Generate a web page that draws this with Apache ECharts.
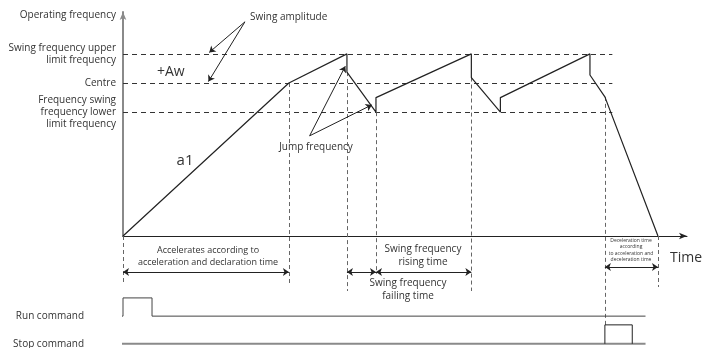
<!DOCTYPE html>
<html>
<head>
<meta charset="utf-8">
<title>Swing frequency</title>
<script src="https://cdn.jsdelivr.net/npm/echarts@6/dist/echarts.min.js"></script>
<style>
  html, body { margin: 0; padding: 0; background: #fff; }
  #chart { width: 705px; height: 348px; }
</style>
</head>
<body>
<div id="chart"></div>
<script>
// swing frequency waveform: time (s) and output frequency (Hz)
const waveTime = [0, 20, 27, 27, 30.5, 30.5, 42, 42, 45.5, 45.5, 56.3, 56.3, 58.1, 64.5];
const waveFreq = [0, 42, 50, 45, 34, 38, 50, 43.5, 34, 38, 50, 44.2, 38.2, 0];

// frequency levels and their names on the axis
const levels = [50, 42, 34];
const levelNames = [
  'Swing frequency upper\nlimit frequency',
  'Centre',
  'Frequency swing\nfrequency lower\nlimit frequency'
];
const levelEnd = 59;

// dashed guides: time and the frequency they start from
const guideTime = [0, 20, 27, 30.5, 42, 58.1, 64.5];
const guideFreq = [0, 42, 45, 34, 43.5, 38.2, 0];

// time spans with double arrows
const spans = [[0, 20], [27, 30.5], [30.5, 42], [58.1, 64.5]];

// command signals
const runPulse = [0, 3.5];
const stopPulse = [58.1, 61.4];
const cmdRange = [-3, 63];

// layout below the time axis (axis units)
const guideEnd = [-12.9, -12.9, -15.1, -10.4, -15.1, -24.4, -14];
const spanY = [-9.9, -9.9, -9.9, -8.5];
const runY = [-22, -17];
const stopY = [-29.6, -24.4];

// pointer arrows for "Swing amplitude" and "Jump frequency"
const pointers = [
  [[14.7, 58.8], [10.4, 50.4]],
  [[14.7, 58.8], [10.3, 42.4]],
  [[22.5, 27.5], [26.8, 46.6]],
  [[22.5, 27.5], [30.0, 36.0]]
];

const FONT = '"Open Sans", "Noto Sans", sans-serif';
const INK = '#222';

function txt (x, y, text, size, align, lh) {
  return {
    type: 'text', x: x, y: y, silent: true,
    style: {
      text: text, fill: '#333', fontFamily: FONT, fontSize: size,
      align: align || 'center', verticalAlign: 'middle',
      lineHeight: lh || Math.round(size * 1.3)
    }
  };
}

function segs (list, color, width, dash, symbol) {
  return {
    type: 'lines', coordinateSystem: 'cartesian2d', clip: false, silent: true,
    symbol: symbol || 'none', symbolSize: 6,
    lineStyle: { color: color, width: width, type: dash || 'solid', opacity: 1 },
    data: list.map(c => ({ coords: c }))
  };
}

const series = [
  // level guides
  segs(levels.map(v => [[0, v], [levelEnd, v]]), '#333', 1, [5, 4]),
  // vertical guides
  segs(guideTime.map((t, i) => [[t, guideFreq[i]], [t, guideEnd[i]]]), '#666', 1, [4, 3]),
  // waveform
  {
    type: 'line', clip: false, showSymbol: false, silent: true,
    lineStyle: { color: INK, width: 1.2 },
    data: waveTime.map((t, i) => [t, waveFreq[i]])
  },
  // double arrows for time spans
  segs(spans.map((s, i) => [[s[0], spanY[i]], [s[1], spanY[i]]]), INK, 1, 'solid', ['arrow', 'arrow']),
  // pointers
  segs(pointers, INK, 1, 'solid', ['none', 'arrow']),
  // run command
  {
    type: 'line', clip: false, showSymbol: false, silent: true,
    lineStyle: { color: '#444', width: 1 },
    data: [
      [cmdRange[0], runY[0]], [runPulse[0], runY[0]], [runPulse[0], runY[1]],
      [runPulse[1], runY[1]], [runPulse[1], runY[0]], [cmdRange[1], runY[0]]
    ]
  },
  // stop command baseline
  {
    type: 'line', clip: false, showSymbol: false, silent: true,
    lineStyle: { color: '#8a8a8a', width: 2 },
    data: [[cmdRange[0], stopY[0]], [cmdRange[1], stopY[0]]]
  },
  // stop pulse
  {
    type: 'line', clip: false, showSymbol: false, silent: true,
    lineStyle: { color: INK, width: 1 },
    data: [
      [stopPulse[0], stopY[0]], [stopPulse[0], stopY[1]],
      [stopPulse[1], stopY[1]], [stopPulse[1], stopY[0]]
    ]
  }
];

const chart = echarts.init(document.getElementById('chart'));
chart.setOption({
  animation: false,
  backgroundColor: '#fff',
  grid: { left: 123, top: 12, width: 564, height: 224 },
  xAxis: {
    type: 'value', min: 0, max: 68,
    axisLine: { show: true, symbol: ['none', 'arrow'], symbolSize: [5, 8], lineStyle: { color: INK, width: 1 } },
    axisTick: { show: false }, axisLabel: { show: false }, splitLine: { show: false }
  },
  yAxis: {
    type: 'value', min: 0, max: 61.5,
    axisLine: { show: true, symbol: ['none', 'arrow'], symbolSize: [5, 8], lineStyle: { color: '#8a8a8a', width: 2 } },
    axisTick: { show: false }, splitLine: { show: false },
    axisLabel: {
      customValues: levels,
      formatter: v => levelNames[levels.indexOf(v)],
      color: '#333', fontFamily: FONT, fontSize: 10, lineHeight: 12, margin: 7
    }
  },
  series: series,
  graphic: [
    txt(116, 15, 'Operating frequency', 10, 'right'),
    txt(250, 17, 'Swing amplitude', 10, 'left'),
    txt(157, 72, '+Aw', 14, 'left'),
    txt(185, 161, 'a1', 15),
    txt(316, 147, 'Jump frequency', 10),
    txt(208, 256, 'Accelerates according to\nacceleration and declaration time', 9, 'center', 12),
    txt(423, 255.5, 'Swing frequency\nrising time', 10, 'center', 13),
    txt(408, 290, 'Swing frequency\nfailing time', 10, 'center', 13),
    txt(631, 250, 'Deceleration time\naccording\nto acceleration and\ndeceleration time', 5, 'center', 6.6),
    txt(670, 258, 'Time', 14, 'left'),
    txt(84, 316, 'Run command', 10, 'right'),
    txt(84, 344, 'Stop command', 10, 'right')
  ]
});
</script>
</body>
</html>
